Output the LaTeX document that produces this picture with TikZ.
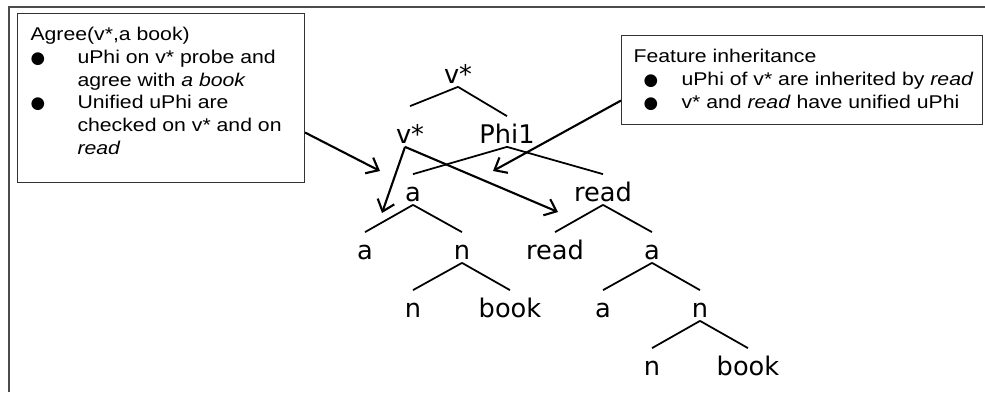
\documentclass[tikz,border=0pt]{standalone}
\usepackage{fontspec}
\usetikzlibrary{arrows.meta}
\newfontfamily\boxfont{Liberation Sans}[FakeStretch=1.15]
\newfontfamily\treefont{DejaVu Sans}
\newfontfamily\bulfont{DejaVu Sans}
\newcommand{\blob}{{\bulfont\fontsize{9.5}{9.5}\selectfont ●}}
\newcommand{\bul}{\makebox[0.94cm][l]{\blob}}
\newcommand{\ind}{\hspace*{0.94cm}}
\newcommand{\rbul}{\makebox[0.96cm][l]{\hspace*{0.2cm}\blob}}

\begin{document}
\begin{tikzpicture}[line width=1pt,
  tn/.style={font=\treefont\fontsize{14.6}{17}\selectfont, inner sep=0pt, text height=0.52cm, text depth=0.06cm, anchor=base},
  note/.style={draw=black!80, line width=0.6pt, inner sep=0pt, anchor=north west, font=\boxfont\fontsize{10.5}{12.9}\selectfont},
  arr/.style={line width=1.2pt, -{Straight Barb[length=6pt,width=10pt]}}]
\useasboundingbox (0,0) rectangle (19.7,7.84);
\draw[black!70, line width=1pt] (0.18,0) |- (19.7,7.70);

% the two notes
\node[note] (agree) at (0.34,7.58) {\parbox[c][3.38cm][t]{5.74cm}{\leftskip=0.26cm\vspace*{0.28cm}Agree(v*,a book)\\
  \bul uPhi on v* probe and\\ \ind agree with \textit{a book}\\
  \bul Unified uPhi are\\ \ind checked on v* and on\\ \ind \textit{read}}};
\node[note] (inherit) at (12.42,7.14) {\parbox[c][1.78cm][t]{7.22cm}{\leftskip=0.24cm\vspace*{0.28cm}Feature inheritance\\
  \rbul uPhi of v* are inherited by \textit{read}\\
  \rbul v* and \textit{read} have unified uPhi}};

% tree
\node[tn] (root) at (9.16,6.18) {v*};
\node[tn] (v1) at (8.20,4.98) {v*};
\node[tn] (phi) at (10.14,4.98) {Phi1};
\node[tn] (a2) at (8.26,3.82) {a};
\node[tn] (rd2) at (12.06,3.82) {read};
\node[tn] (a3) at (7.30,2.66) {a};
\node[tn] (n3) at (9.24,2.66) {n};
\node[tn] (rd3) at (11.10,2.66) {read};
\node[tn] (a3r) at (13.04,2.66) {a};
\node[tn] (n4) at (8.26,1.50) {n};
\node[tn] (bk4) at (10.20,1.50) {book};
\node[tn] (a4) at (12.06,1.50) {a};
\node[tn] (n4r) at (14.00,1.50) {n};
\node[tn] (n5) at (13.04,0.34) {n};
\node[tn] (bk5) at (14.96,0.34) {book};

\draw (root.south) -- ([yshift=0.2cm]v1.north);
\foreach \p/\c in {root/phi, phi/a2, phi/rd2, a2/a3, a2/n3, rd2/rd3, rd2/a3r,
  n3/n4, n3/bk4, a3r/a4, a3r/n4r, n4r/n5, n4r/bk5}
  \draw (\p.south) -- (\c.north);

% arrows
\coordinate (tipL) at (7.60,4.42);
\coordinate (tipR) at (9.86,4.42);
\coordinate (tipA) at (7.64,3.58);
\coordinate (tipB) at (11.16,3.60);
\draw[arr] ([yshift=-0.69cm]agree.east) -- (tipL);
\draw[arr] ([yshift=-0.41cm]inherit.west) -- (tipR);
\draw[arr] ([xshift=-0.1cm]v1.south) -- (tipA);
\draw[arr] ([xshift=-0.1cm]v1.south) -- (tipB);

\end{tikzpicture}
\end{document}
